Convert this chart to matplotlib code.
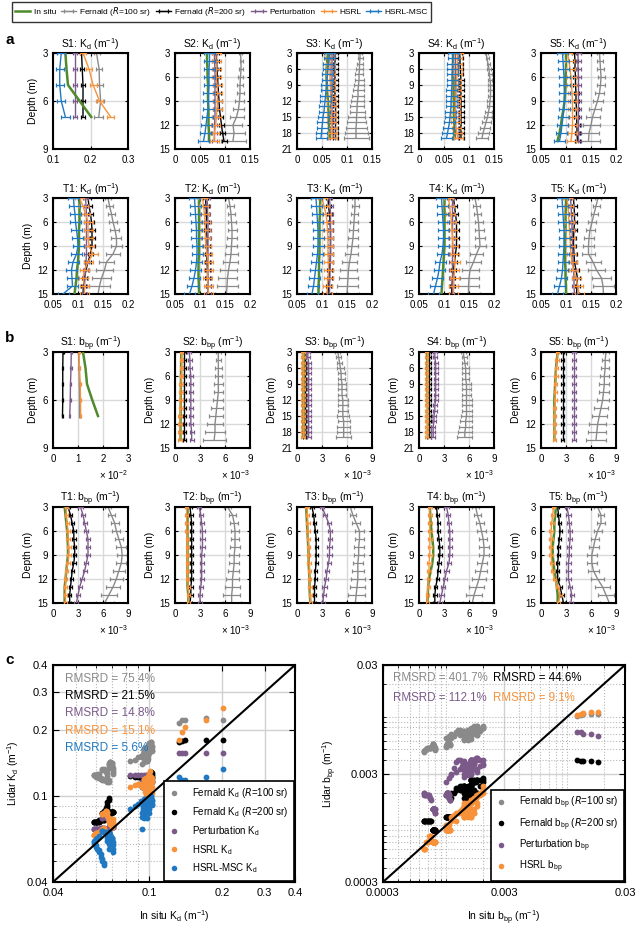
import numpy as np
import matplotlib.pyplot as plt
from matplotlib.ticker import FixedLocator, NullFormatter

plt.rcParams['font.family'] = ['Liberation Sans', 'DejaVu Sans']
plt.rcParams['mathtext.default'] = 'regular'

GREEN = '#4f8a2c'
GRAY = '#8a8a8a'
BLACK = '#000000'
PURPLE = '#7b5a8a'
ORANGE = '#f7923a'
BLUE = '#1f78c1'

STATIONS = ['S1', 'S2', 'S3', 'S4', 'S5', 'T1', 'T2', 'T3', 'T4', 'T5']
YMAX = {'S1': 9, 'S2': 15, 'S3': 21, 'S4': 21, 'S5': 15,
        'T1': 15, 'T2': 15, 'T3': 15, 'T4': 15, 'T5': 15}
DEPTHS = {'S1': [3, 4, 5, 6, 7],
          'S2': [3, 4, 5, 6, 7, 8, 9, 10, 11, 12, 13, 14],
          'S3': [3, 4, 5, 6, 7, 8, 9, 10, 11, 12, 13, 14, 15, 16, 17, 18, 19],
          'S4': [3, 4, 5, 6, 7, 8, 9, 10, 11, 12, 13, 14, 15, 16, 17, 18, 19],
          'S5': [3, 4, 5, 6, 7, 8, 9, 10, 11, 12, 13, 14]}
for t in ['T1', 'T2', 'T3', 'T4', 'T5']:
    DEPTHS[t] = [3, 4, 5, 6, 7, 8, 9, 10, 11, 12, 13, 14, 15]

# ---- diffuse attenuation Kd (m^-1) ----
KD_INSITU = {
    'S1': [0.133, 0.136, 0.140, 0.171, 0.202],
    'S2': [0.064, 0.064, 0.065, 0.065, 0.066, 0.066, 0.066, 0.067, 0.067, 0.067, 0.068, 0.068],
    'S3': [0.062, 0.061, 0.060, 0.059, 0.059, 0.059, 0.060, 0.060, 0.061, 0.062, 0.062, 0.063, 0.063, 0.064, 0.064, 0.065, 0.065],
    'S4': [0.068, 0.068, 0.068, 0.068, 0.068, 0.069, 0.069, 0.069, 0.069, 0.070, 0.070, 0.070, 0.070, 0.071, 0.071, 0.071, 0.071],
    'S5': [0.100, 0.100, 0.100, 0.099, 0.099, 0.098, 0.097, 0.095, 0.092, 0.090, 0.087, 0.083],
    'T1': [0.103, 0.103, 0.103, 0.103, 0.102, 0.102, 0.102, 0.101, 0.100, 0.098, 0.097, 0.095, 0.093],
    'T2': [0.098, 0.098, 0.098, 0.098, 0.098, 0.098, 0.098, 0.098, 0.097, 0.097, 0.097, 0.098, 0.098],
    'T3': [0.097, 0.096, 0.096, 0.095, 0.095, 0.095, 0.095, 0.095, 0.094, 0.094, 0.094, 0.093, 0.093],
    'T4': [0.101, 0.101, 0.101, 0.101, 0.101, 0.101, 0.101, 0.100, 0.099, 0.098, 0.097, 0.096, 0.095],
    'T5': [0.100, 0.100, 0.099, 0.099, 0.099, 0.098, 0.098, 0.098, 0.098, 0.099, 0.099, 0.100, 0.100],
}
KD_F100 = {
    'S1': [0.216, 0.223, 0.224, 0.227, 0.222],
    'S2': [0.131, 0.132, 0.132, 0.131, 0.130, 0.130, 0.129, 0.127, 0.123, 0.116, 0.118, 0.116],
    'S3': [0.126, 0.126, 0.125, 0.125, 0.124, 0.124, 0.123, 0.122, 0.122, 0.121, 0.120, 0.120, 0.119, 0.119, 0.118, 0.118, 0.118],
    'S4': [0.134, 0.136, 0.138, 0.140, 0.141, 0.142, 0.143, 0.143, 0.143, 0.142, 0.141, 0.139, 0.137, 0.134, 0.131, 0.128, 0.126],
    'S5': [0.167, 0.168, 0.169, 0.170, 0.169, 0.167, 0.163, 0.158, 0.153, 0.150, 0.146, 0.145],
    'T1': [0.160, 0.163, 0.167, 0.170, 0.174, 0.177, 0.177, 0.170, 0.157, 0.153, 0.147, 0.143, 0.140],
    'T2': [0.157, 0.160, 0.162, 0.163, 0.164, 0.164, 0.163, 0.162, 0.160, 0.157, 0.155, 0.154, 0.153],
    'T3': [0.166, 0.166, 0.165, 0.164, 0.163, 0.162, 0.160, 0.158, 0.155, 0.153, 0.152, 0.151, 0.150],
    'T4': [0.162, 0.165, 0.167, 0.169, 0.170, 0.171, 0.172, 0.165, 0.159, 0.152, 0.150, 0.149, 0.149],
    'T5': [0.164, 0.160, 0.156, 0.152, 0.148, 0.146, 0.145, 0.145, 0.154, 0.161, 0.171, 0.174, 0.175],
}
KD_F100_ERR = {
    'S1': [0.008, 0.008, 0.008, 0.009, 0.012],
    'S2': [0.003, 0.003, 0.004, 0.005, 0.006, 0.007, 0.009, 0.011, 0.014, 0.018, 0.022, 0.025],
    'S3': [0.004, 0.005, 0.006, 0.007, 0.008, 0.009, 0.010, 0.011, 0.012, 0.013, 0.014, 0.015, 0.017, 0.019, 0.021, 0.023, 0.025],
    'S4': [0.003, 0.003, 0.003, 0.004, 0.004, 0.004, 0.005, 0.005, 0.005, 0.006, 0.006, 0.007, 0.008, 0.009, 0.010, 0.011, 0.012],
    'S5': [0.006, 0.006, 0.007, 0.007, 0.008, 0.009, 0.010, 0.012, 0.014, 0.017, 0.020, 0.022],
}
for t in ['T1', 'T2', 'T3', 'T4', 'T5']:
    KD_F100_ERR[t] = [0.006, 0.007, 0.007, 0.008, 0.009, 0.010, 0.011, 0.013, 0.015, 0.017, 0.019, 0.021, 0.023]
KD_F200 = {
    'S1': [0.176, 0.178, 0.180, 0.180, 0.180],
    'S2': [0.083, 0.083, 0.084, 0.085, 0.086, 0.087, 0.088, 0.089, 0.091, 0.093, 0.095, 0.098],
    'S3': [0.076, 0.076, 0.076, 0.076, 0.076, 0.076, 0.076, 0.076, 0.076, 0.076, 0.077, 0.077, 0.077, 0.077, 0.077, 0.077, 0.077],
    'S4': [0.081, 0.082, 0.082, 0.083, 0.083, 0.084, 0.084, 0.084, 0.084, 0.084, 0.084, 0.084, 0.084, 0.084, 0.084, 0.084, 0.084],
    'S5': [0.117, 0.118, 0.118, 0.119, 0.119, 0.120, 0.120, 0.121, 0.121, 0.122, 0.122, 0.123],
    'T1': [0.120, 0.122, 0.125, 0.127, 0.128, 0.128, 0.128, 0.125, 0.120, 0.116, 0.113, 0.111, 0.110],
    'T2': [0.111, 0.112, 0.113, 0.113, 0.113, 0.114, 0.114, 0.114, 0.114, 0.115, 0.115, 0.116, 0.117],
    'T3': [0.112, 0.113, 0.115, 0.116, 0.117, 0.117, 0.117, 0.117, 0.116, 0.115, 0.114, 0.113, 0.112],
    'T4': [0.119, 0.121, 0.123, 0.125, 0.125, 0.125, 0.125, 0.123, 0.121, 0.119, 0.117, 0.116, 0.115],
    'T5': [0.115, 0.116, 0.117, 0.117, 0.116, 0.115, 0.115, 0.116, 0.117, 0.120, 0.123, 0.122, 0.121],
}
KD_PERT = {
    'S1': [0.158, 0.158, 0.158, 0.158, 0.158],
    'S2': [0.079, 0.079, 0.080, 0.080, 0.080, 0.080, 0.080, 0.080, 0.080, 0.079, 0.079, 0.079],
    'S3': [0.070, 0.070, 0.070, 0.070, 0.070, 0.070, 0.070, 0.070, 0.070, 0.070, 0.070, 0.070, 0.071, 0.071, 0.071, 0.071, 0.071],
    'S4': [0.072, 0.072, 0.072, 0.072, 0.072, 0.072, 0.072, 0.072, 0.072, 0.072, 0.072, 0.072, 0.072, 0.072, 0.072, 0.072, 0.072],
    'S5': [0.124, 0.124, 0.124, 0.125, 0.125, 0.125, 0.125, 0.125, 0.125, 0.125, 0.125, 0.125],
    'T1': [0.115, 0.116, 0.117, 0.117, 0.117, 0.117, 0.117, 0.117, 0.116, 0.115, 0.114, 0.113, 0.112],
    'T2': [0.114, 0.115, 0.115, 0.116, 0.116, 0.116, 0.116, 0.116, 0.116, 0.116, 0.116, 0.116, 0.116],
    'T3': [0.115, 0.116, 0.117, 0.117, 0.117, 0.117, 0.117, 0.117, 0.117, 0.116, 0.116, 0.115, 0.115],
    'T4': [0.115, 0.115, 0.115, 0.115, 0.115, 0.115, 0.115, 0.115, 0.115, 0.115, 0.115, 0.115, 0.115],
    'T5': [0.109, 0.110, 0.111, 0.112, 0.112, 0.113, 0.113, 0.114, 0.114, 0.115, 0.116, 0.116, 0.117],
}
KD_HSRL = {
    'S1': [0.180, 0.196, 0.207, 0.224, 0.254],
    'S2': [0.082, 0.082, 0.083, 0.083, 0.084, 0.085, 0.085, 0.084, 0.083, 0.081, 0.079, 0.078],
    'S3': [0.065, 0.065, 0.066, 0.066, 0.066, 0.066, 0.067, 0.067, 0.067, 0.068, 0.068, 0.068, 0.069, 0.069, 0.070, 0.070, 0.071],
    'S4': [0.078, 0.077, 0.077, 0.076, 0.076, 0.075, 0.075, 0.074, 0.074, 0.073, 0.073, 0.072, 0.072, 0.073, 0.074, 0.076, 0.078],
    'S5': [0.103, 0.106, 0.108, 0.110, 0.111, 0.112, 0.113, 0.113, 0.113, 0.113, 0.112, 0.110],
    'T1': [0.103, 0.110, 0.115, 0.120, 0.120, 0.120, 0.122, 0.130, 0.120, 0.113, 0.110, 0.113, 0.113],
    'T2': [0.105, 0.107, 0.109, 0.110, 0.111, 0.111, 0.112, 0.114, 0.117, 0.116, 0.115, 0.116, 0.117],
    'T3': [0.100, 0.104, 0.108, 0.110, 0.111, 0.112, 0.112, 0.112, 0.113, 0.113, 0.112, 0.111, 0.110],
    'T4': [0.109, 0.111, 0.113, 0.115, 0.116, 0.117, 0.118, 0.120, 0.122, 0.121, 0.120, 0.119, 0.119],
    'T5': [0.102, 0.104, 0.105, 0.106, 0.107, 0.108, 0.109, 0.110, 0.112, 0.115, 0.120, 0.124, 0.126],
}
KD_MSC = {
    'S1': [0.122, 0.118, 0.118, 0.122, 0.133],
    'S2': [0.069, 0.069, 0.068, 0.068, 0.068, 0.067, 0.067, 0.066, 0.064, 0.062, 0.060, 0.057],
    'S3': [0.065, 0.064, 0.063, 0.062, 0.061, 0.060, 0.059, 0.058, 0.057, 0.056, 0.055, 0.054, 0.052, 0.051, 0.050, 0.049, 0.048],
    'S4': [0.068, 0.068, 0.067, 0.067, 0.066, 0.066, 0.066, 0.065, 0.065, 0.064, 0.064, 0.063, 0.062, 0.061, 0.059, 0.057, 0.055],
    'S5': [0.093, 0.094, 0.095, 0.096, 0.096, 0.097, 0.097, 0.096, 0.094, 0.092, 0.090, 0.087],
    'T1': [0.091, 0.092, 0.094, 0.095, 0.097, 0.099, 0.100, 0.097, 0.090, 0.087, 0.088, 0.089, 0.070],
    'T2': [0.089, 0.090, 0.091, 0.092, 0.093, 0.093, 0.094, 0.094, 0.093, 0.091, 0.088, 0.084, 0.079],
    'T3': [0.088, 0.089, 0.090, 0.091, 0.092, 0.092, 0.092, 0.091, 0.089, 0.087, 0.085, 0.083, 0.080],
    'T4': [0.095, 0.096, 0.097, 0.098, 0.099, 0.099, 0.098, 0.096, 0.092, 0.090, 0.087, 0.083, 0.079],
    'T5': [0.092, 0.093, 0.094, 0.095, 0.096, 0.096, 0.096, 0.095, 0.094, 0.093, 0.091, 0.087, 0.083],
}
KD_ERR = {'f200': 0.005, 'pert': 0.005, 'hsrl': 0.009, 'msc': 0.011}

# ---- particulate backscattering bbp (x 1e-3 m^-1) ----
BBP_INSITU = {
    'S1': [12.0, 13.0, 13.6, 15.7, 18.0],
    'S2': [0.75, 0.74, 0.73, 0.72, 0.71, 0.70, 0.69, 0.68, 0.67, 0.66, 0.65, 0.65],
    'S3': [0.80, 0.80, 0.80, 0.80, 0.79, 0.79, 0.79, 0.79, 0.78, 0.78, 0.78, 0.78, 0.78, 0.77, 0.77, 0.77, 0.77],
    'S4': [1.00, 1.00, 1.01, 1.01, 1.02, 1.02, 1.03, 1.03, 1.04, 1.04, 1.05, 1.05, 1.06, 1.06, 1.07, 1.07, 1.08],
    'S5': [2.0, 1.9, 1.8, 1.75, 1.7, 1.65, 1.6, 1.6, 1.6, 1.6, 1.6, 1.6],
    'T1': [1.4, 1.5, 1.6, 1.7, 1.75, 1.8, 1.8, 1.7, 1.6, 1.5, 1.4, 1.4, 1.4],
    'T2': [1.5, 1.5, 1.5, 1.5, 1.5, 1.5, 1.5, 1.5, 1.5, 1.5, 1.5, 1.6, 1.6],
    'T3': [1.1, 1.15, 1.2, 1.25, 1.3, 1.35, 1.4, 1.4, 1.45, 1.5, 1.5, 1.55, 1.6],
    'T4': [1.3, 1.35, 1.4, 1.5, 1.6, 1.7, 1.7, 1.6, 1.4, 1.2, 1.1, 1.05, 1.0],
    'T5': [1.8, 1.7, 1.6, 1.6, 1.5, 1.4, 1.4, 1.5, 1.6, 1.8, 1.9, 2.0, 2.0],
}
BBP_F100 = {
    'S1': [10.2, 10.4, 10.5, 10.6, 10.6],
    'S2': [5.2, 5.2, 5.2, 5.2, 5.2, 5.2, 5.1, 5.0, 4.9, 4.8, 4.8, 4.7],
    'S3': [4.9, 5.0, 5.1, 5.2, 5.3, 5.3, 5.4, 5.4, 5.4, 5.5, 5.5, 5.5, 5.5, 5.6, 5.6, 5.6, 5.6],
    'S4': [5.3, 5.4, 5.5, 5.6, 5.6, 5.6, 5.7, 5.7, 5.7, 5.7, 5.7, 5.7, 5.7, 5.6, 5.6, 5.5, 5.5],
    'S5': [7.8, 7.7, 7.7, 7.6, 7.6, 7.5, 7.4, 7.2, 7.0, 6.8, 6.7, 6.6],
    'T1': [6.6, 7.0, 7.4, 7.6, 7.9, 8.2, 8.3, 8.2, 7.9, 7.6, 7.2, 6.7, 6.2],
    'T2': [6.3, 6.9, 7.1, 7.2, 7.2, 7.2, 7.1, 7.1, 7.0, 6.9, 6.9, 6.8, 6.8],
    'T3': [6.4, 6.7, 7.1, 7.5, 7.5, 7.4, 7.4, 7.3, 7.3, 7.3, 7.2, 7.1, 7.0],
    'T4': [6.8, 7.0, 7.3, 7.5, 7.7, 7.8, 7.8, 7.6, 7.4, 7.2, 6.9, 6.6, 6.4],
    'T5': [6.8, 7.2, 7.2, 6.8, 6.5, 6.3, 6.1, 6.1, 6.3, 6.8, 7.4, 7.8, 8.2],
}
BBP_F100_ERR = {
    'S1': [0.3, 0.3, 0.3, 0.3, 0.3],
    'S2': [0.3, 0.3, 0.4, 0.4, 0.5, 0.5, 0.6, 0.7, 0.8, 1.0, 1.2, 1.4],
    'S3': [0.3, 0.3, 0.3, 0.4, 0.4, 0.4, 0.5, 0.5, 0.5, 0.6, 0.6, 0.6, 0.7, 0.7, 0.8, 0.8, 0.9],
    'S4': [0.3, 0.3, 0.3, 0.4, 0.4, 0.4, 0.5, 0.5, 0.5, 0.6, 0.6, 0.6, 0.7, 0.7, 0.8, 0.8, 0.9],
    'S5': [0.4, 0.4, 0.5, 0.5, 0.6, 0.6, 0.7, 0.8, 0.9, 1.0, 1.1, 1.2],
}
for t in ['T1', 'T2', 'T3', 'T4', 'T5']:
    BBP_F100_ERR[t] = [0.4, 0.4, 0.5, 0.5, 0.5, 0.6, 0.6, 0.6, 0.7, 0.8, 0.9, 1.0, 1.1]
BBP_F200 = {
    'S1': [4.0, 3.9, 3.9, 3.9, 3.8],
    'S2': [1.1, 1.1, 1.1, 1.1, 1.1, 1.1, 1.1, 1.1, 1.1, 1.1, 1.1, 1.1],
    'S3': [0.9, 0.9, 0.9, 0.9, 0.9, 0.9, 0.9, 0.9, 0.9, 0.9, 0.9, 0.9, 0.9, 0.9, 0.9, 0.9, 0.9],
    'S4': [1.2, 1.2, 1.2, 1.2, 1.2, 1.2, 1.2, 1.2, 1.2, 1.2, 1.2, 1.2, 1.2, 1.2, 1.2, 1.2, 1.2],
    'S5': [2.6, 2.6, 2.6, 2.6, 2.6, 2.6, 2.6, 2.6, 2.6, 2.6, 2.6, 2.6],
    'T1': [1.8, 2.1, 2.3, 2.5, 2.5, 2.6, 2.6, 2.5, 2.3, 2.2, 2.1, 2.0, 2.0],
    'T2': [1.8, 1.9, 2.0, 2.0, 2.0, 2.0, 2.0, 2.0, 2.0, 2.0, 1.9, 1.9, 1.8],
    'T3': [1.8, 2.0, 2.1, 2.2, 2.3, 2.3, 2.3, 2.3, 2.2, 2.2, 2.1, 2.1, 2.1],
    'T4': [2.1, 2.2, 2.3, 2.3, 2.4, 2.5, 2.5, 2.4, 2.3, 2.2, 2.0, 1.9, 1.9],
    'T5': [2.0, 2.1, 2.2, 2.3, 2.2, 2.1, 2.1, 2.0, 2.0, 2.0, 2.3, 2.5, 2.7],
}
BBP_PERT = {
    'S1': [7.3, 7.2, 7.0, 6.9, 6.7],
    'S2': [1.7, 1.8, 1.8, 1.9, 1.9, 1.9, 1.9, 1.9, 1.9, 1.9, 2.0, 2.0],
    'S3': [1.3, 1.3, 1.4, 1.4, 1.4, 1.4, 1.4, 1.4, 1.4, 1.4, 1.4, 1.4, 1.4, 1.4, 1.4, 1.4, 1.4],
    'S4': [1.9, 1.9, 2.0, 2.0, 2.0, 2.0, 2.0, 2.0, 2.0, 2.0, 1.9, 1.9, 1.8, 1.8, 1.7, 1.7, 1.7],
    'S5': [4.0, 4.0, 4.0, 4.0, 4.0, 4.0, 4.0, 4.0, 4.0, 4.0, 4.0, 4.0],
    'T1': [3.3, 3.6, 3.8, 4.0, 4.2, 4.2, 4.2, 4.0, 3.8, 3.5, 3.2, 3.0, 2.8],
    'T2': [2.9, 3.1, 3.2, 3.3, 3.3, 3.3, 3.2, 3.2, 3.2, 3.2, 3.1, 3.0, 3.0],
    'T3': [3.0, 3.4, 3.8, 4.0, 4.0, 3.9, 3.9, 3.8, 3.6, 3.5, 3.3, 3.2, 3.1],
    'T4': [3.3, 3.5, 3.6, 3.7, 3.7, 3.7, 3.7, 3.6, 3.3, 3.1, 2.9, 2.7, 2.5],
    'T5': [3.1, 3.3, 3.4, 3.5, 3.5, 3.4, 3.4, 3.3, 3.3, 3.3, 3.5, 3.7, 3.6],
}
BBP_HSRL = {
    'S1': [10.4, 10.6, 10.9, 11.0, 11.1],
    'S2': [0.8, 0.8, 0.8, 0.8, 0.7, 0.7, 0.7, 0.7, 0.6, 0.6, 0.6, 0.6],
    'S3': [0.7, 0.7, 0.7, 0.7, 0.7, 0.7, 0.7, 0.7, 0.7, 0.7, 0.7, 0.7, 0.7, 0.7, 0.7, 0.7, 0.7],
    'S4': [0.9, 0.9, 0.9, 0.9, 0.9, 0.9, 0.9, 0.9, 0.9, 0.9, 0.9, 0.9, 0.9, 0.9, 0.9, 0.9, 0.9],
    'S5': [2.0, 1.9, 1.85, 1.8, 1.75, 1.7, 1.7, 1.65, 1.6, 1.6, 1.6, 1.6],
    'T1': [1.6, 1.6, 1.7, 1.8, 1.8, 1.9, 1.9, 1.8, 1.6, 1.5, 1.5, 1.5, 1.5],
    'T2': [1.4, 1.4, 1.4, 1.4, 1.5, 1.5, 1.5, 1.5, 1.5, 1.5, 1.6, 1.6, 1.6],
    'T3': [1.2, 1.25, 1.3, 1.3, 1.35, 1.4, 1.4, 1.45, 1.5, 1.5, 1.55, 1.6, 1.6],
    'T4': [1.3, 1.3, 1.3, 1.3, 1.3, 1.3, 1.3, 1.2, 1.2, 1.1, 1.1, 1.0, 1.0],
    'T5': [1.5, 1.4, 1.3, 1.2, 1.2, 1.2, 1.2, 1.3, 1.4, 1.6, 2.0, 2.3, 2.1],
}
BBP_ERR = {'f200': 0.2, 'pert': 0.25, 'hsrl': 0.2}

KD_XLIM = {'S1': (0.1, 0.3), 'S2': (0, 0.15), 'S3': (0, 0.15), 'S4': (0, 0.15), 'S5': (0.05, 0.2)}
KD_XTICKS = {'S1': ['0.1', '0.2', '0.3'], 'S2': ['0', '0.05', '0.1', '0.15'],
             'S3': ['0', '0.05', '0.1', '0.15'], 'S4': ['0', '0.05', '0.1', '0.15'],
             'S5': ['0.05', '0.1', '0.15', '0.2']}
for t in ['T1', 'T2', 'T3', 'T4', 'T5']:
    KD_XLIM[t] = (0.05, 0.2)
    KD_XTICKS[t] = ['0.05', '0.1', '0.15', '0.2']

RMSRD_KD = ['75.4%', '21.5%', '14.8%', '15.1%', '5.6%']
RMSRD_BBP = ['401.7%', '44.6%', '112.1%', '9.1%']

# ---------------- layout ----------------
W, H = 640, 926
fig = plt.figure(figsize=(6.4, 9.26), dpi=100)


def add_ax(x, y, w, h):
    return fig.add_axes([x / W, 1 - (y + h) / H, w / W, h / H])


COL_X = [53, 175, 297, 419, 541]
AW, AH = 75, 96


def style_box(ax):
    ax.tick_params(direction='in', top=True, right=True, length=2.5, width=0.8,
                   labelsize=7)
    ax.tick_params(axis='x', pad=4)
    ax.tick_params(axis='y', pad=3.5)
    for s in ax.spines.values():
        s.set_linewidth(1.5)


def style_profile(ax, st, xlim, labels, ylabel):
    ax.set_ylim(YMAX[st], 3)
    ax.set_yticks(list(range(3, YMAX[st] + 1, 3)))
    ax.set_xlim(*xlim)
    ax.set_xticks([float(v) for v in labels] if xlim[1] < 1 else np.linspace(*xlim, len(labels)))
    ax.set_xticklabels(labels)
    ax.grid(True, color='0.85', lw=1)
    ax.set_axisbelow(True)
    style_box(ax)
    if ylabel:
        ax.set_ylabel('Depth (m)', fontsize=7.5, labelpad=3)


def eb(ax, x, d, err, color, z):
    return ax.errorbar(x, d, xerr=err, color=color, lw=1.0, elinewidth=0.9,
                       capsize=1.6, capthick=0.9, zorder=z)


handles = None
# panel a
for i, st in enumerate(STATIONS):
    x0 = COL_X[i % 5]
    y0 = 53 if i < 5 else 198
    ax = add_ax(x0, y0, AW, AH)
    d = DEPTHS[st]
    h1 = eb(ax, KD_F100[st], d, KD_F100_ERR[st], GRAY, 2)
    h2 = eb(ax, KD_F200[st], d, KD_ERR['f200'], BLACK, 3)
    h3 = eb(ax, KD_PERT[st], d, KD_ERR['pert'], PURPLE, 4)
    h0, = ax.plot(KD_INSITU[st], d, color=GREEN, lw=1.8, zorder=5)
    h4 = eb(ax, KD_HSRL[st], d, KD_ERR['hsrl'], ORANGE, 6)
    h5 = eb(ax, KD_MSC[st], d, KD_ERR['msc'], BLUE, 7)
    if handles is None:
        handles = [h0, h1, h2, h3, h4, h5]
    style_profile(ax, st, KD_XLIM[st], KD_XTICKS[st], i % 5 == 0)
    ax.set_title(st + ': K$_d$ (m$^{-1}$)', fontsize=7.5, pad=3.5)

# panel b
for i, st in enumerate(STATIONS):
    x0 = COL_X[i % 5]
    y0 = 352 if i < 5 else 507
    ax = add_ax(x0, y0, AW, AH)
    d = DEPTHS[st]
    eb(ax, BBP_F100[st], d, BBP_F100_ERR[st], GRAY, 2)
    eb(ax, BBP_F200[st], d, BBP_ERR['f200'], BLACK, 3)
    eb(ax, BBP_PERT[st], d, BBP_ERR['pert'], PURPLE, 4)
    ax.plot(BBP_INSITU[st], d, color=GREEN, lw=1.8, zorder=5)
    eb(ax, BBP_HSRL[st], d, BBP_ERR['hsrl'], ORANGE, 6)
    if st == 'S1':
        style_profile(ax, st, (0, 30), ['0', '1', '2', '3'], True)
        expo = '\u00d7 10$^{-2}$'
    else:
        style_profile(ax, st, (0, 9), ['0', '3', '6', '9'], True)
        expo = '\u00d7 10$^{-3}$'
    ax.set_title(st + ': b$_{bp}$ (m$^{-1}$)', fontsize=7.5, pad=3.5)
    fig.text((x0 + AW) / W, 1 - (y0 + AH + 27) / H, expo, fontsize=7,
             ha='right', va='center')

# legend on top
labels = ['In situ', 'Fernald ($\\mathit{R}$=100 sr)', 'Fernald ($\\mathit{R}$=200 sr)',
          'Perturbation', 'HSRL', 'HSRL-MSC']
leg = fig.legend(handles, labels, loc='upper left', bbox_to_anchor=(12 / W, 1 - 2 / H),
                 ncol=6, fontsize=6, frameon=True, fancybox=False, edgecolor='black',
                 handlelength=1.8, columnspacing=0.6, handletextpad=0.4,
                 borderpad=0.4, borderaxespad=0)
leg.get_frame().set_linewidth(1.0)

# panel letters
for letter, yy in [('a', 40), ('b', 338), ('c', 660)]:
    fig.text(5 / W, 1 - yy / H, letter, fontsize=11, fontweight='bold', va='center')

# panel c: scatter
series_kd = [(KD_F100, GRAY, 'Fernald K$_d$ ($\\mathit{R}$=100 sr)'),
             (KD_F200, BLACK, 'Fernald K$_d$ ($\\mathit{R}$=200 sr)'),
             (KD_PERT, PURPLE, 'Perturbation K$_d$'),
             (KD_HSRL, ORANGE, 'HSRL K$_d$'),
             (KD_MSC, BLUE, 'HSRL-MSC K$_d$')]
series_bbp = [(BBP_F100, GRAY, 'Fernald b$_{bp}$ ($\\mathit{R}$=100 sr)'),
              (BBP_F200, BLACK, 'Fernald b$_{bp}$ ($\\mathit{R}$=200 sr)'),
              (BBP_PERT, PURPLE, 'Perturbation b$_{bp}$'),
              (BBP_HSRL, ORANGE, 'HSRL b$_{bp}$')]


def scatter_panel(ax, insitu, series, scale, lim, ticks, ticklabels, minors):
    xs = np.concatenate([insitu[s] for s in STATIONS]) * scale
    for vals, color, lab in series:
        ys = np.concatenate([vals[s] for s in STATIONS]) * scale
        ax.plot(xs, ys, 'o', ls='none', color=color, ms=4.2, mec='none', label=lab, zorder=3)
    ax.plot(lim, lim, color='black', lw=1.5, zorder=4)
    ax.set_xscale('log')
    ax.set_yscale('log')
    ax.set_xlim(*lim)
    ax.set_ylim(*lim)
    for axis in (ax.xaxis, ax.yaxis):
        axis.set_major_locator(FixedLocator(ticks))
        axis.set_minor_locator(FixedLocator(minors))
        axis.set_minor_formatter(NullFormatter())
    ax.set_xticklabels(ticklabels)
    ax.set_yticklabels(ticklabels)
    ax.grid(True, which='major', color='0.82', lw=1)
    ax.grid(True, which='minor', color='0.72', lw=0.8, ls=':')
    ax.set_axisbelow(True)
    style_box(ax)
    ax.tick_params(which='major', labelsize=8, length=4)
    ax.tick_params(which='minor', direction='in', top=True, right=True, length=2, width=0.6)
    leg = ax.legend(loc='lower right', fontsize=7, frameon=True, fancybox=False,
                    edgecolor='black', borderaxespad=0.15, handlelength=1.0,
                    handletextpad=1.3, borderpad=0.55, labelspacing=0.5,
                    markerscale=0.95, framealpha=1)
    leg.get_frame().set_linewidth(1.2)
    leg.set_zorder(6)


axc1 = add_ax(53, 665, 242, 217)
scatter_panel(axc1, KD_INSITU, series_kd, 1.0, (0.04, 0.4), [0.04, 0.1, 0.2, 0.3, 0.4],
              ['0.04', '0.1', '0.2', '0.3', '0.4'], [0.05, 0.06, 0.07, 0.08, 0.09])
axc1.set_xlabel('In situ K$_d$ (m$^{-1}$)', fontsize=7.5, labelpad=8)
axc1.set_ylabel('Lidar K$_d$ (m$^{-1}$)', fontsize=7.5, labelpad=4)
for k, (txt, col) in enumerate(zip(RMSRD_KD, [GRAY, BLACK, PURPLE, ORANGE, BLUE])):
    axc1.text(0.05, 0.935 - k * 0.079, 'RMSRD = ' + txt, transform=axc1.transAxes,
              color=col, fontsize=8.5, va='center', zorder=5)

axc2 = add_ax(383, 665, 242, 217)
bbp_minor = [0.0004, 0.0005, 0.0006, 0.0007, 0.0008, 0.0009, 0.001, 0.002,
             0.004, 0.005, 0.006, 0.007, 0.008, 0.009, 0.01, 0.02]
scatter_panel(axc2, BBP_INSITU, series_bbp, 1e-3, (0.0003, 0.03), [0.0003, 0.003, 0.03],
              ['0.0003', '0.003', '0.03'], bbp_minor)
axc2.set_xlabel('In situ b$_{bp}$ (m$^{-1}$)', fontsize=7.5, labelpad=8)
axc2.set_ylabel('Lidar b$_{bp}$ (m$^{-1}$)', fontsize=7.5, labelpad=4)
axc2.text(0.04, 0.94, 'RMSRD = ' + RMSRD_BBP[0], transform=axc2.transAxes,
          color=GRAY, fontsize=8.3, va='center', zorder=5)
axc2.text(0.455, 0.94, 'RMSRD = ' + RMSRD_BBP[1], transform=axc2.transAxes,
          color=BLACK, fontsize=8.3, va='center', zorder=5)
axc2.text(0.04, 0.848, 'RMSRD = ' + RMSRD_BBP[2], transform=axc2.transAxes,
          color=PURPLE, fontsize=8.3, va='center', zorder=5)
axc2.text(0.455, 0.848, 'RMSRD = ' + RMSRD_BBP[3], transform=axc2.transAxes,
          color=ORANGE, fontsize=8.3, va='center', zorder=5)

fig.savefig('out.png', dpi=100)
